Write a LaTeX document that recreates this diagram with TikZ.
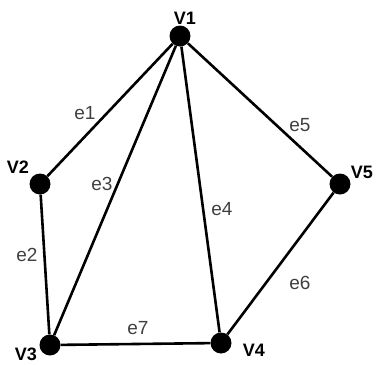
\documentclass[tikz,border=0pt]{standalone}
\usepackage{fontspec}
\setmainfont{Liberation Sans}
\usetikzlibrary{positioning}

\begin{document}
\begin{tikzpicture}[
        x=1pt, y=-1pt,
        vertex/.style={circle, fill=black, inner sep=0pt, minimum size=21pt},
        vname/.style={font=\fontsize{18}{20}\selectfont\bfseries, text=black, inner sep=0pt},
        ename/.style={font=\fontsize{19}{21}\selectfont, text=black!75, inner sep=0pt},
        edge/.style={line width=2.6pt, black},
        ]
        \useasboundingbox (0,0) rectangle (376,365);

        % Vertices
        \node[vertex] (v1) at (180,36) {};
        \node[vertex] (v2) at (40,184) {};
        \node[vertex] (v3) at (50,345) {};
        \node[vertex] (v4) at (221,343) {};
        \node[vertex] (v5) at (340,184) {};

        % Vertex names
        \node[vname] (n1) at (185,18) {V1};
        \node[vname] (n2) at (18,167) {V2};
        \node[vname] (n3) at (26,354) {V3};
        \node[vname] (n4) at (254,350) {V4};
        \node[vname] (n5) at (362,172) {V5};

        % Edges
        \draw[edge] (v1) -- (v2);
        \draw[edge] (v2) -- (v3);
        \draw[edge] (v1) -- (v3);
        \draw[edge] (v1) -- (v4);
        \draw[edge] (v1) -- (v5);
        \draw[edge] (v5) -- (v4);
        \draw[edge] (v3) -- (v4);

        % Edge names
        \node[ename] (l1) at (85,113) {e1};
        \node[ename] (l2) at (27,255) {e2};
        \node[ename] (l3) at (102,184) {e3};
        \node[ename] (l4) at (222,209) {e4};
        \node[ename] (l5) at (300,125) {e5};
        \node[ename] (l6) at (300,283) {e6};
        \node[ename] (l7) at (138,328) {e7};

    \end{tikzpicture}
\end{document}
